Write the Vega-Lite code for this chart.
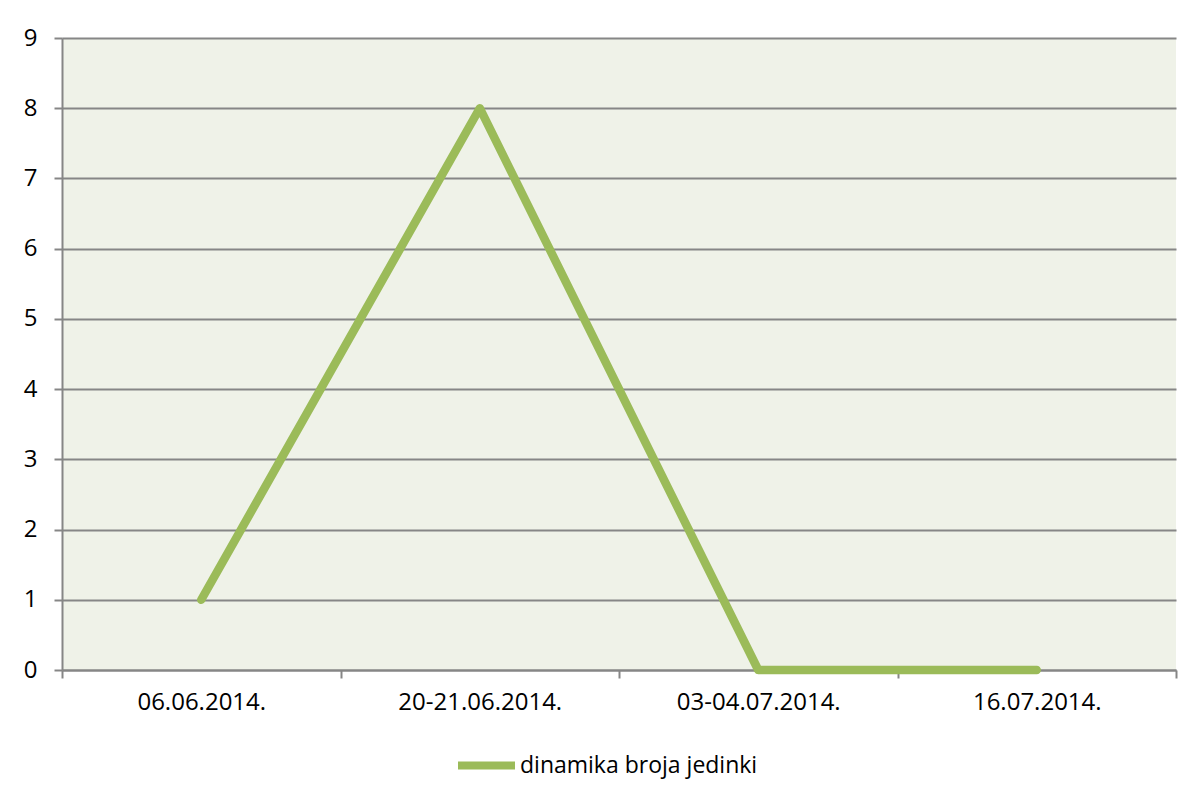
{
  "$schema": "https://vega.github.io/schema/vega-lite/v6.json",
  "width": 1114,
  "height": 632,
  "padding": {"left": 62, "top": 38, "right": 27, "bottom": 128},
  "autosize": {"type": "none"},
  "background": "#ffffff",
  "data": {"values": [
    {"datum": "06.06.2014.", "value": 1, "series": "dinamika broja jedinki"},
    {"datum": "20-21.06.2014.", "value": 8, "series": "dinamika broja jedinki"},
    {"datum": "03-04.07.2014.", "value": 0, "series": "dinamika broja jedinki"},
    {"datum": "16.07.2014.", "value": 0, "series": "dinamika broja jedinki"}
  ]},
  "mark": {"type": "line", "strokeWidth": 8.5, "strokeCap": "round", "strokeJoin": "round"},
  "encoding": {
    "x": {
      "field": "datum", "type": "ordinal", "sort": null,
      "scale": {"type": "band", "paddingInner": 0, "paddingOuter": 0},
      "axis": {"title": null, "labelAngle": 0, "tickBand": "extent", "grid": false, "ticks": true, "tickSize": 8, "labelPadding": 12, "labelFontSize": 24, "labelOverlap": false}
    },
    "y": {
      "field": "value", "type": "quantitative",
      "scale": {"domain": [0, 9], "nice": false},
      "axis": {"title": null, "values": [0,1,2,3,4,5,6,7,8,9], "grid": true, "ticks": true, "tickSize": 8, "labelPadding": 17, "labelFontSize": 24, "labelOverlap": false}
    },
    "color": {
      "field": "series", "type": "nominal",
      "scale": {"range": ["#9BBB59"]},
      "legend": {"title": null, "orient": "none", "legendX": 392, "legendY": 695, "direction": "horizontal", "symbolType": "stroke", "symbolSize": 3249, "symbolStrokeWidth": 8, "labelOffset": 1, "labelFontSize": 23}
    }
  },
  "config": {
    "font": "Open Sans",
    "view": {"fill": "#EFF2E8", "stroke": null},
    "axis": {
      "labelFont": "Open Sans", "labelColor": "#000000",
      "domainColor": "#868686", "domainWidth": 2, "tickColor": "#868686", "tickWidth": 2,
      "gridColor": "#868686", "gridWidth": 2, "gridOpacity": 1
    },
    "legend": {"labelFont": "Open Sans", "labelColor": "#000000", "labelLimit": 400}
  }
}
